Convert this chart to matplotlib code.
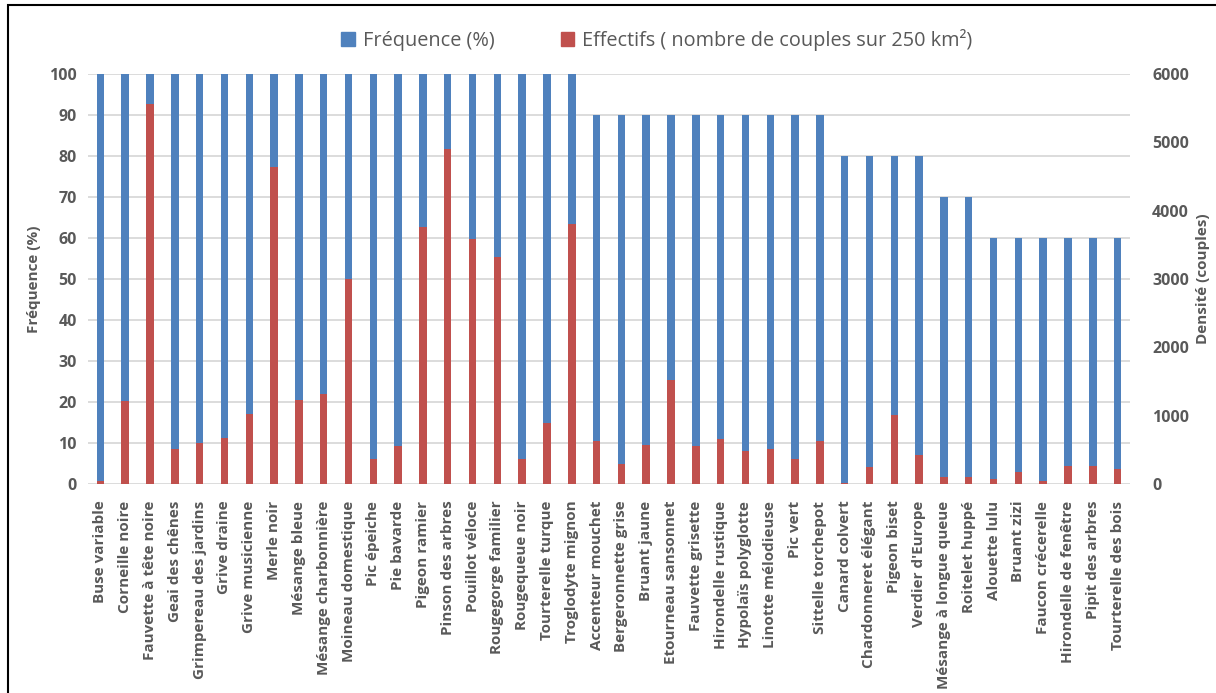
import matplotlib
matplotlib.use("Agg")
import matplotlib.pyplot as plt
from matplotlib.patches import Rectangle, Patch
import numpy as np

species = [
    "Buse variable", "Corneille noire", "Fauvette à tête noire", "Geai des chênes",
    "Grimpereau des jardins", "Grive draine", "Grive musicienne", "Merle noir",
    "Mésange bleue", "Mésange charbonnière", "Moineau domestique", "Pic épeiche",
    "Pie bavarde", "Pigeon ramier", "Pinson des arbres", "Pouillot véloce",
    "Rougegorge familier", "Rougequeue noir", "Tourterelle turque", "Troglodyte mignon",
    "Accenteur mouchet", "Bergeronnette grise", "Bruant jaune", "Etourneau sansonnet",
    "Fauvette grisette", "Hirondelle rustique", "Hypolaïs polyglotte", "Linotte mélodieuse",
    "Pic vert", "Sittelle torchepot", "Canard colvert", "Chardonneret élégant",
    "Pigeon biset", "Verdier d'Europe", "Mésange à longue queue", "Roitelet huppé",
    "Alouette lulu", "Bruant zizi", "Faucon crécerelle", "Hirondelle de fenêtre",
    "Pipit des arbres", "Tourterelle des bois",
]

frequence = [
    100, 100, 100, 100, 100, 100, 100, 100, 100, 100,
    100, 100, 100, 100, 100, 100, 100, 100, 100, 100,
    90, 90, 90, 90, 90, 90, 90, 90, 90, 90,
    80, 80, 80, 80, 70, 70,
    60, 60, 60, 60, 60, 60,
]

effectifs = [
    40, 1220, 5560, 510, 595, 680, 1030, 4640, 1230, 1320,
    3000, 360, 560, 3760, 4900, 3580, 3325, 360, 900, 3800,
    625, 300, 570, 1520, 560, 665, 485, 510, 365, 635,
    15, 245, 1010, 425, 100, 100, 70, 180, 40, 270,
    270, 225,
]

left_ticks = list(range(0, 101, 10))
right_ticks = list(range(0, 6001, 1000))

BLUE = "#4F81BD"
RED = "#C0504D"
GRID = "#D9D9D9"
TXT = "#595959"
FONT = ["Open Sans", "DejaVu Sans"]

plt.rcParams["font.family"] = FONT

fig = plt.figure(figsize=(12.16, 6.93), dpi=100)
W, H = 1216, 693
ax = fig.add_axes([88 / W, 1 - 484 / H, (1130 - 88) / W, (484 - 74) / H])
ax2 = ax.twinx()

x = np.arange(len(species))
bw = 0.3
ax.bar(x, frequence, width=bw, color=BLUE, zorder=3)
ax2.bar(x, effectifs, width=bw, color=RED, zorder=3)

ax.set_xlim(-0.5, len(species) - 0.5)
ax.set_ylim(0, 100)
ax2.set_ylim(0, 6000)
ax.set_yticks(left_ticks)
ax2.set_yticks(right_ticks)
ax.set_xticks(x)
ax.set_xticklabels(species, rotation=90, fontsize=11, color=TXT, fontweight="bold")

for a in (ax, ax2):
    for s in a.spines.values():
        s.set_visible(False)
    a.tick_params(axis="both", length=0)

ax.tick_params(axis="y", labelsize=11.5, labelcolor=TXT, pad=8)
ax2.tick_params(axis="y", labelsize=11.5, labelcolor=TXT, pad=16)
ax.tick_params(axis="x", pad=12)
for lab in ax.get_yticklabels() + ax2.get_yticklabels():
    lab.set_fontweight("bold")

ax.yaxis.grid(True, color=GRID, linewidth=1.3, zorder=0)
ax.set_axisbelow(True)

ax.set_ylabel("Fréquence (%)", fontsize=11, color=TXT, fontweight="bold", labelpad=6)
ax2.set_ylabel("Densité (couples)", fontsize=11, color=TXT, fontweight="bold", labelpad=5)

handles = [Patch(color=BLUE), Patch(color=RED)]
fig.legend(handles, ["Fréquence (%)", "Effectifs ( nombre de couples sur 250 km²)"],
           loc="center", bbox_to_anchor=(657 / W, 1 - 40 / H), ncol=2, frameon=False,
           fontsize=14.3, labelcolor=TXT, handlelength=0.7, handleheight=0.7,
           handletextpad=0.4, columnspacing=3.3)

fig.patches.append(Rectangle((8 / W, -0.1), 1.2, 1.1 - 5 / H, transform=fig.transFigure,
                             fill=False, edgecolor="black", linewidth=1.5))

fig.savefig("out.png", dpi=100)
